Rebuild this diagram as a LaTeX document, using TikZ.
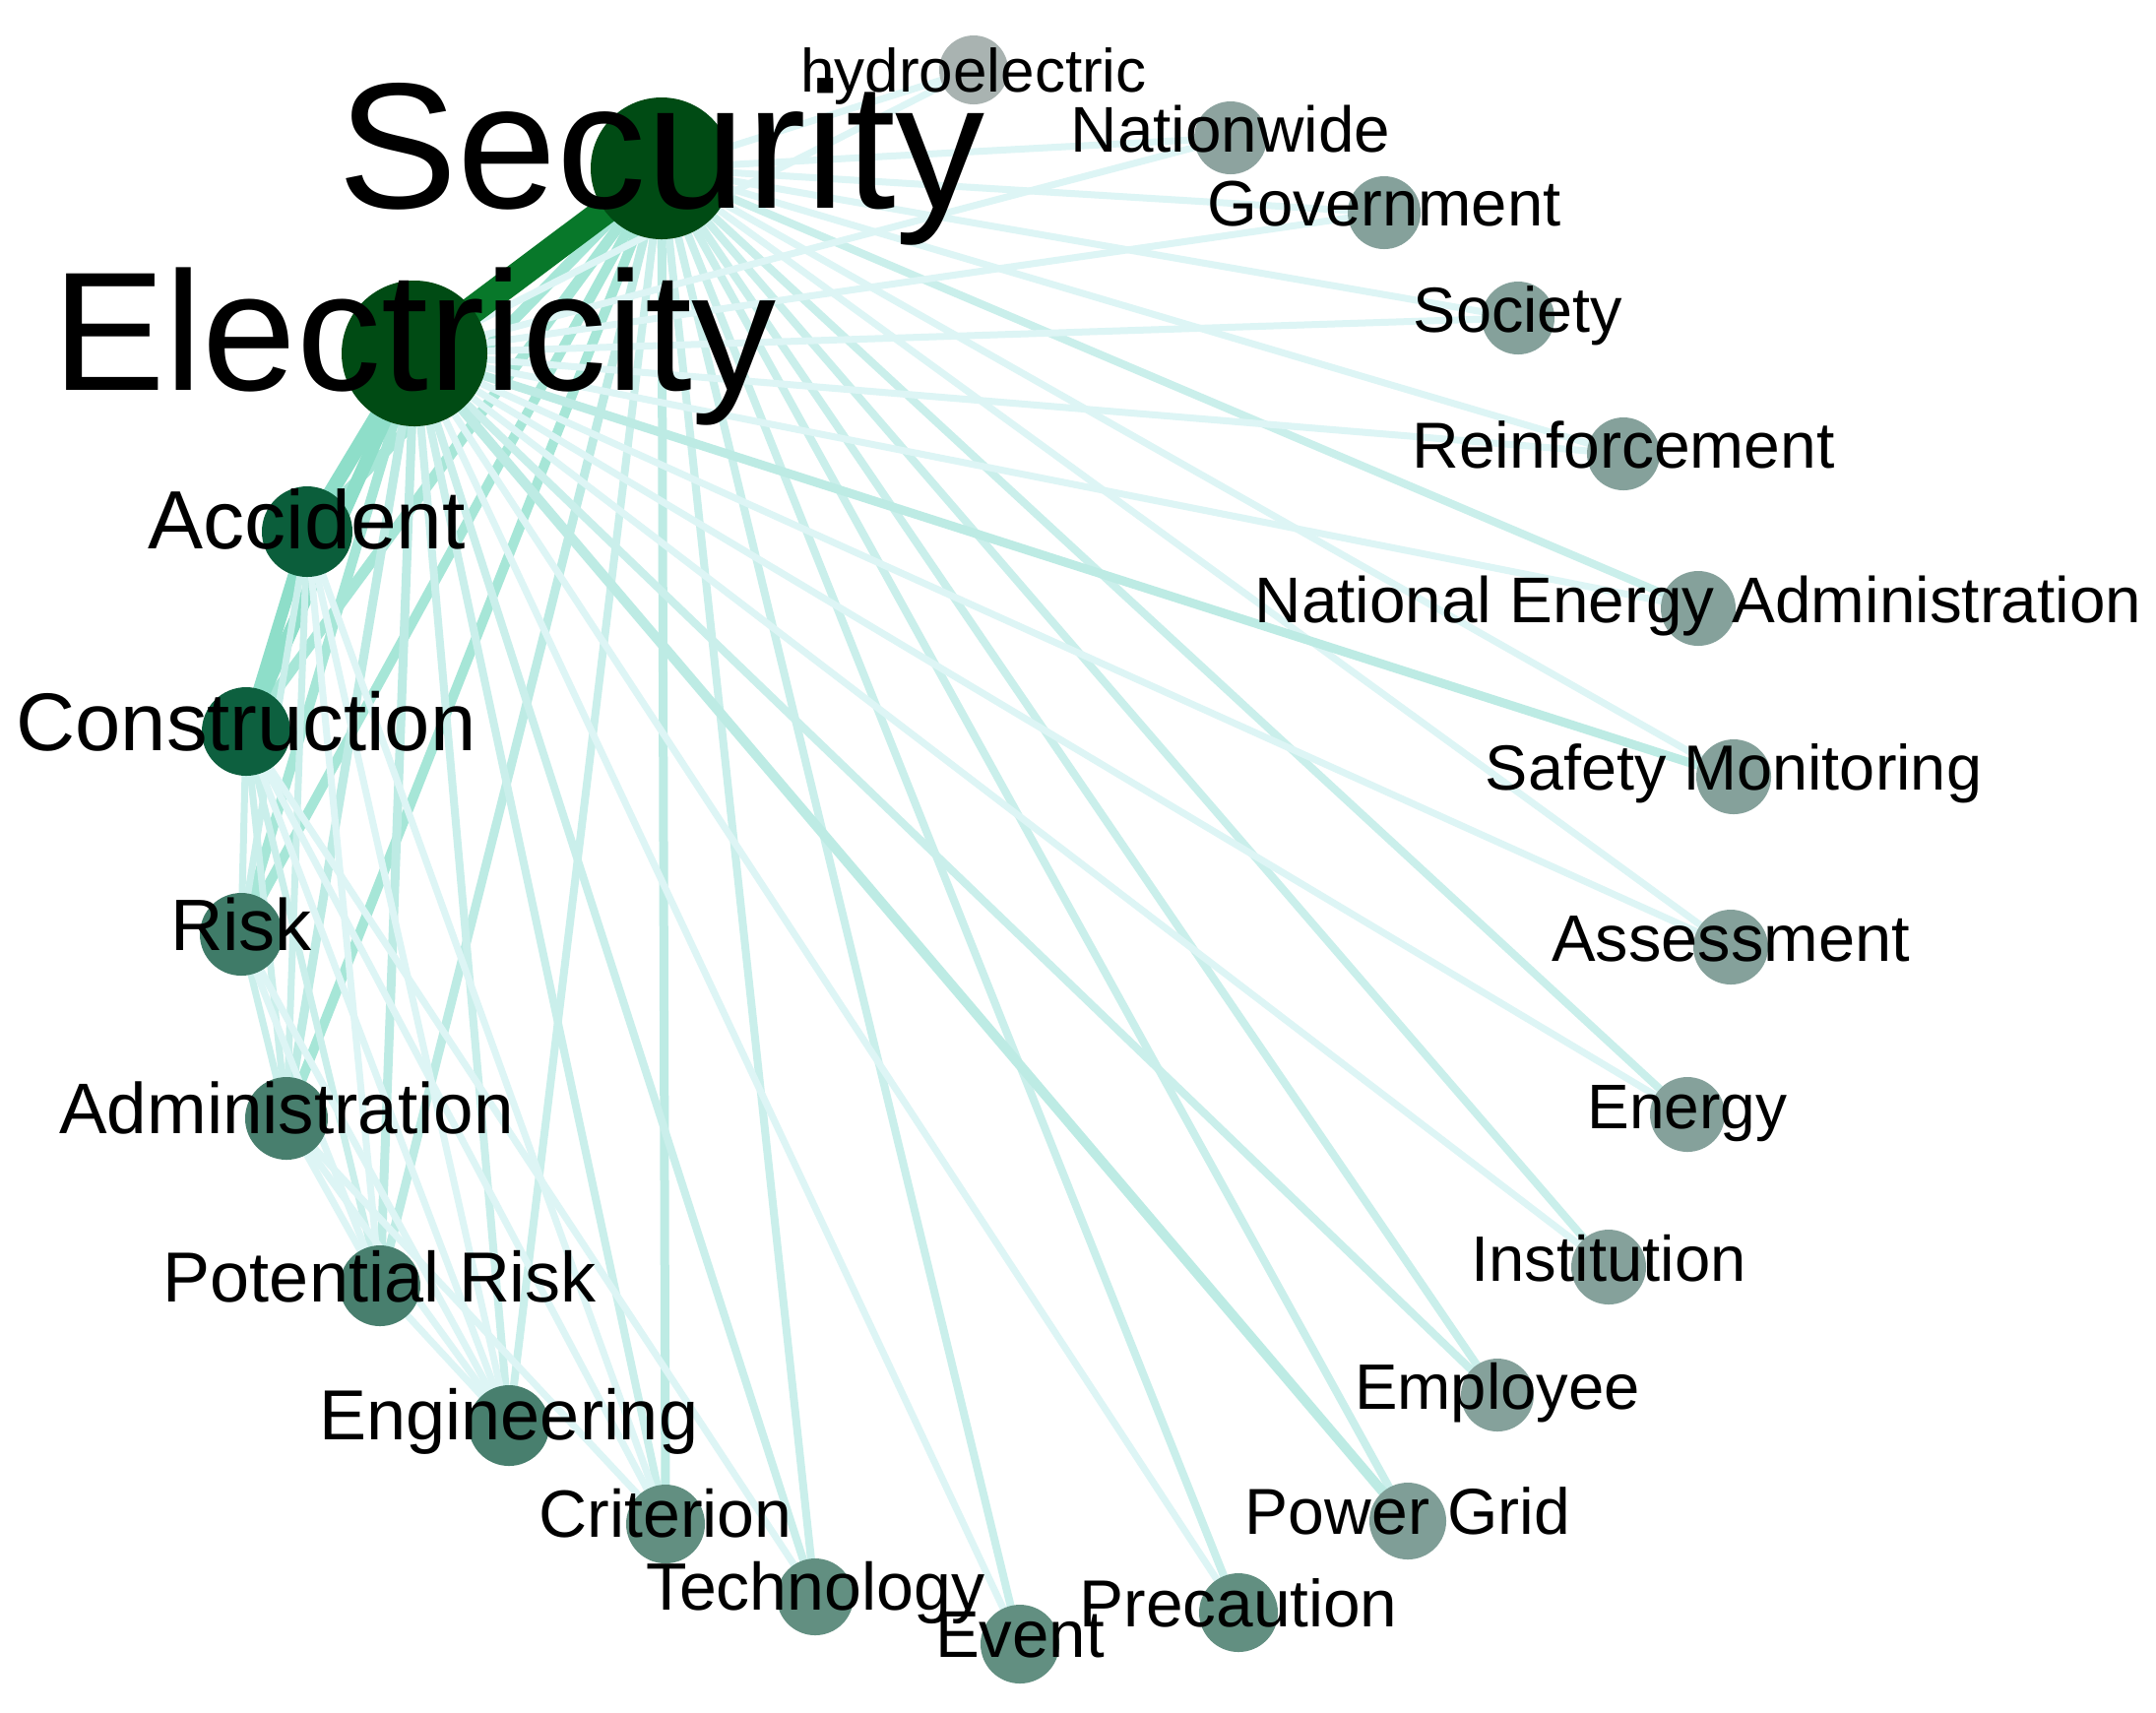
\documentclass[tikz,border=0pt]{standalone}
\usepackage{fontspec}
\setmainfont{Liberation Sans}
\pgfdeclarelayer{bg}
\pgfdeclarelayer{edges}
\pgfsetlayers{bg,edges,main}
\definecolor{hubgreen}{HTML}{004B14}
\definecolor{hubedge}{HTML}{08782A}
\definecolor{nAcc}{HTML}{0B5E3B}
\definecolor{nCon}{HTML}{0D603F}
\definecolor{nRisk}{HTML}{3F7B68}
\definecolor{nMid}{HTML}{487F6E}
\definecolor{nLow}{HTML}{628F81}
\definecolor{nPg}{HTML}{7F9E97}
\definecolor{nGray}{HTML}{85A19B}
\definecolor{nNat}{HTML}{8DA39F}
\definecolor{nHyd}{HTML}{A9B3B1}
\definecolor{eStrong}{HTML}{8EDEC9}
\definecolor{eStrong2}{HTML}{A6E6D7}
\definecolor{eMid}{HTML}{BDEBE4}
\definecolor{eMid2}{HTML}{CAEFEB}
\definecolor{eLight}{HTML}{DDF5F5}
\tikzset{
  vtx/.style={circle, draw=none, inner sep=0pt, minimum size={#1*0.5pt}},
  lbl/.style={anchor=base, inner sep=0pt, text=black},
  ew/.style={line width={#1*0.25pt}},
  estrong/.style={ew=#1, color=eStrong},
  estrongb/.style={ew=#1, color=eStrong2},
  emid/.style={ew=#1, color=eMid},
  emidb/.style={ew=#1, color=eMid2},
  elight/.style={ew=#1, color=eLight},
}
\newcommand{\fsz}[1]{\fontsize{#1}{#1}\selectfont}
\begin{document}
\begin{tikzpicture}[x=0.25pt,y=-0.25pt]
\begin{pgfonlayer}{bg}
\fill[white] (0,0) rectangle (2190,1739);
\end{pgfonlayer}
\useasboundingbox (0,0) rectangle (2190,1739);

% vertices
\node[vtx=72, fill=hubgreen] (sec) at (672,171) {};
\node[vtx=74, fill=hubgreen] (ele) at (421,359) {};
\node[vtx=46, fill=nAcc] (acc) at (312,540) {};
\node[vtx=45, fill=nCon] (con) at (250,743) {};
\node[vtx=42, fill=nRisk] (risk) at (245,949) {};
\node[vtx=42, fill=nMid] (adm) at (291,1136) {};
\node[vtx=41, fill=nMid] (prk) at (386,1306) {};
\node[vtx=41, fill=nMid] (eng) at (517,1448) {};
\node[vtx=40, fill=nLow] (cri) at (676,1548) {};
\node[vtx=39, fill=nLow] (tec) at (828,1622) {};
\node[vtx=40, fill=nLow] (evt) at (1036,1670) {};
\node[vtx=40, fill=nLow] (pre) at (1258,1638) {};
\node[vtx=39, fill=nPg] (pg) at (1430,1545) {};
\node[vtx=37, fill=nGray] (emp) at (1521,1417) {};
\node[vtx=38, fill=nGray] (ins) at (1634,1287) {};
\node[vtx=38, fill=nGray] (ene) at (1714,1132) {};
\node[vtx=38, fill=nGray] (ass) at (1758,962) {};
\node[vtx=38, fill=nGray] (saf) at (1761,789) {};
\node[vtx=38, fill=nGray] (nea) at (1725,618) {};
\node[vtx=37, fill=nGray] (rei) at (1649,461) {};
\node[vtx=37, fill=nGray] (soc) at (1542,323) {};
\node[vtx=37, fill=nGray] (gov) at (1406,216) {};
\node[vtx=37, fill=nNat] (nat) at (1250,140) {};
\node[vtx=35, fill=nHyd] (hyd) at (989,71) {};

% edges
\begin{pgfonlayer}{edges}
  % Security hub
  \foreach \t in {hyd,nat,gov,soc,rei,saf,ass}
    \draw[elight=7] (sec.center) -- (\t.center);
  \foreach \t in {nea,ene,ins,emp,pg,pre,evt,tec,eng}
    \draw[emidb=8] (sec.center) -- (\t.center);
  \draw[emid=9] (sec.center) -- (cri.center);
  \draw[emid=9] (sec.center) -- (prk.center);
  \draw[estrongb=10] (sec.center) -- (adm.center);
  \draw[estrongb=10] (sec.center) -- (risk.center);
  \draw[estrongb=11] (sec.center) -- (con.center);
  \draw[estrongb=11] (sec.center) -- (acc.center);
  % Electricity hub
  \foreach \t in {hyd,nat,gov,soc,rei,nea,ass,ene,ins,pre,evt}
    \draw[elight=7] (ele.center) -- (\t.center);
  \foreach \t in {emp,tec,cri,eng}
    \draw[emidb=8] (ele.center) -- (\t.center);
  \draw[emid=9] (ele.center) -- (saf.center);
  \draw[emid=10] (ele.center) -- (pg.center);
  \draw[emid=9] (ele.center) -- (prk.center);
  \draw[emid=9] (ele.center) -- (adm.center);
  \draw[estrongb=10] (ele.center) -- (risk.center);
  \draw[estrong=14] (ele.center) -- (con.center);
  \draw[estrong=15] (ele.center) -- (acc.center);
  % left cluster
  \draw[estrong=12] (acc.center) -- (con.center);
  \foreach \a/\b in {acc/risk,acc/adm,con/risk,con/adm,con/prk,risk/adm}
    \draw[emidb=7] (\a.center) -- (\b.center);
  \foreach \a/\b in {acc/prk,acc/eng,acc/cri,con/eng,con/cri,con/tec,risk/prk,risk/eng,adm/prk,adm/eng,adm/cri,prk/eng}
    \draw[elight=7] (\a.center) -- (\b.center);
  % Security -- Electricity
  \draw[ew=28, color=hubedge] (ele.center) -- (sec.center);
\end{pgfonlayer}

% labels
\node[lbl, font=\fsz{45.5}] (sec-l) at (672,211) {Security};
\node[lbl, font=\fsz{43}] (ele-l) at (421,396) {Electricity};
\node[lbl, font=\fsz{21}] (acc-l) at (312,557) {Accident};
\node[lbl, font=\fsz{20.8}] (con-l) at (250,762) {Construction};
\node[lbl, font=\fsz{18.5}] (risk-l) at (245,965) {Risk};
\node[lbl, font=\fsz{18.2}] (adm-l) at (291,1151) {Administration};
\node[lbl, font=\fsz{18}] (prk-l) at (386,1322) {Potential Risk};
\node[lbl, font=\fsz{18}] (eng-l) at (517,1462) {Engineering};
\node[lbl, font=\fsz{17}] (cri-l) at (676,1561) {Criterion};
\node[lbl, font=\fsz{17}] (tec-l) at (828,1635) {Technology};
\node[lbl, font=\fsz{16.8}] (evt-l) at (1036,1683) {Event};
\node[lbl, font=\fsz{16.9}] (pre-l) at (1258,1652) {Precaution};
\node[lbl, font=\fsz{16.5}] (pg-l) at (1430,1558) {Power Grid};
\node[lbl, font=\fsz{16.3}] (emp-l) at (1521,1431) {Employee};
\node[lbl, font=\fsz{16.3}] (ins-l) at (1634,1301) {Institution};
\node[lbl, font=\fsz{16}] (ene-l) at (1714,1146) {Energy};
\node[lbl, font=\fsz{16.7}] (ass-l) at (1758,976) {Assessment};
\node[lbl, font=\fsz{16.2}] (saf-l) at (1761,802) {Safety Monitoring};
\node[lbl, font=\fsz{16.4}] (nea-l) at (1725,632) {National Energy Administration};
\node[lbl, font=\fsz{16.5}] (rei-l) at (1649,475) {Reinforcement};
\node[lbl, font=\fsz{16.2}] (soc-l) at (1542,337) {Society};
\node[lbl, font=\fsz{16.3}] (gov-l) at (1406,229) {Government};
\node[lbl, font=\fsz{16.4}] (nat-l) at (1250,154) {Nationwide};
\node[lbl, font=\fsz{15.5}] (hyd-l) at (989,93) {hydroelectric};
\end{tikzpicture}
\end{document}
